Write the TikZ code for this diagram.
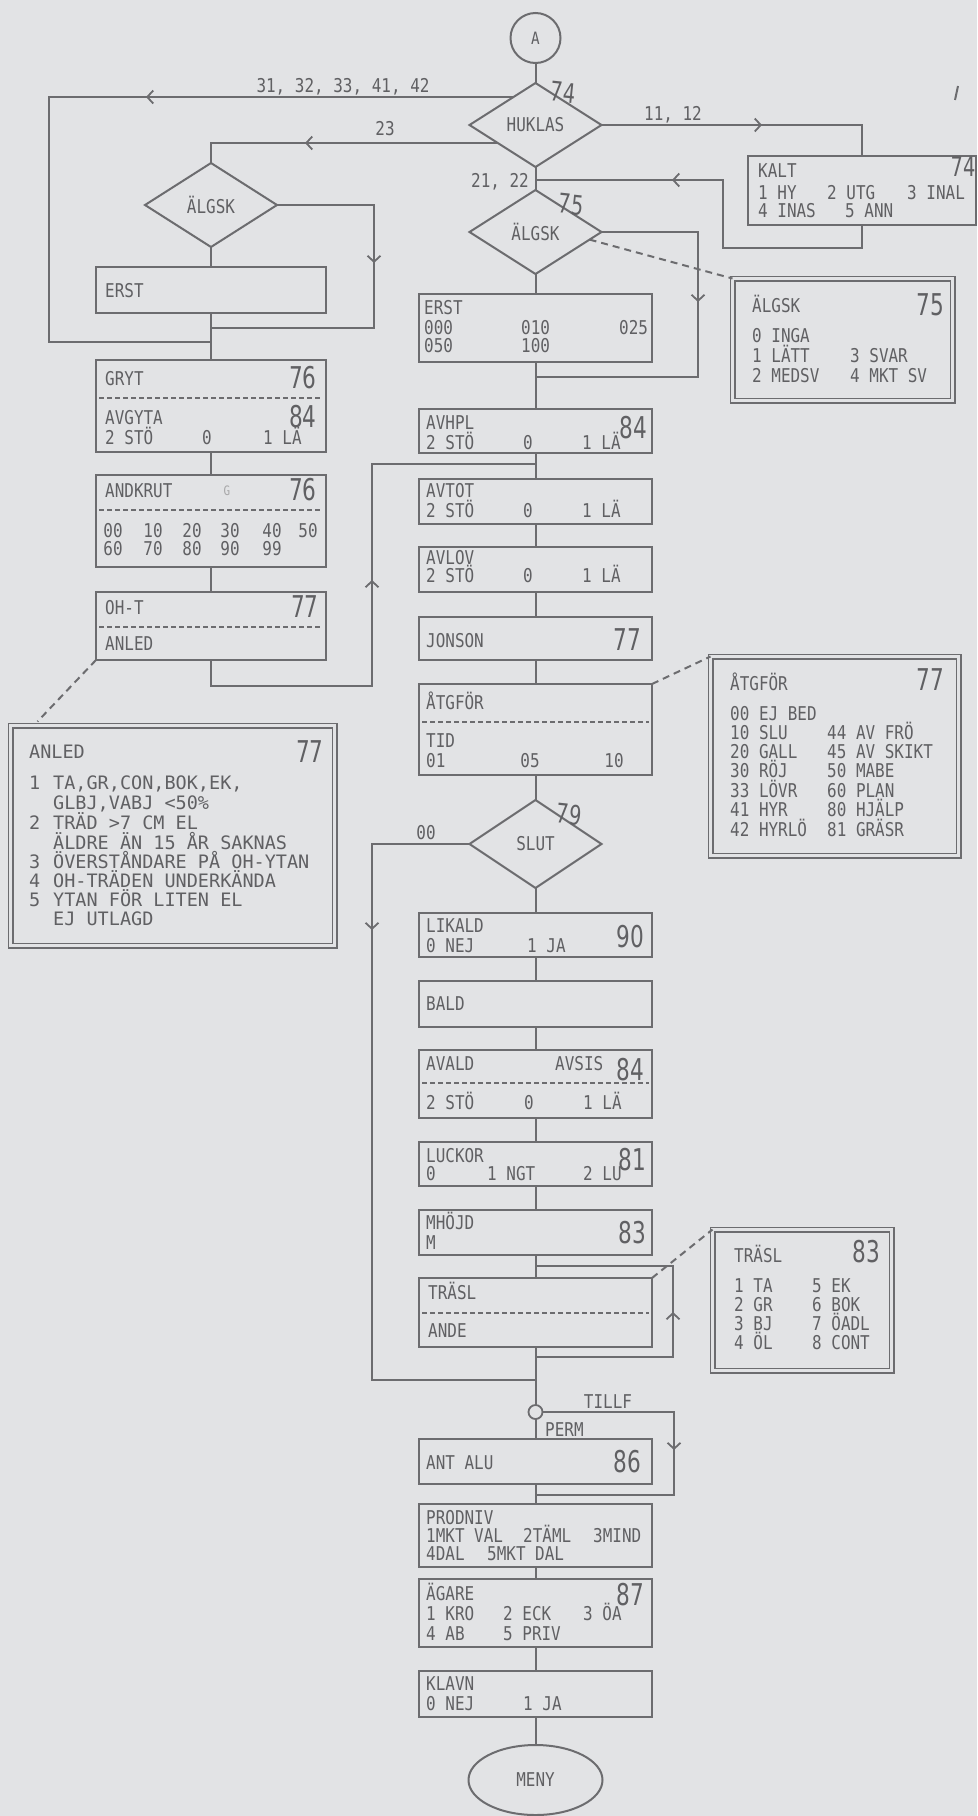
\documentclass[tikz,border=0pt]{standalone}
\usepackage{fontspec}
\setmainfont{DejaVu Sans}
\newfontfamily\plotf[FakeStretch=0.84]{DejaVu Sans Mono}
\newfontfamily\widef{DejaVu Sans Mono}
\newfontfamily\bigff[FakeStretch=0.72]{DejaVu Sans}
\usetikzlibrary{shapes.geometric,arrows.meta,calc}
\definecolor{bg}{RGB}{226,227,229}
\definecolor{ink}{RGB}{108,108,111}
\definecolor{tink}{RGB}{96,96,99}
\newcounter{tn}
\newcommand\Tl[3]{\stepcounter{tn}\node[txt] (t\arabic{tn}) at (#1,#2+7) {#3};}
\newcommand\Tc[3]{\stepcounter{tn}\node[txt,anchor=base] (t\arabic{tn}) at (#1,#2+7) {#3};}
\newcommand\Tw[3]{\stepcounter{tn}\node[txtw] (t\arabic{tn}) at (#1,#2+6.5) {#3};}
\newcommand\Bn[3]{\stepcounter{tn}\node[bignum] (t\arabic{tn}) at (#1,#2+10.5) {#3};}
\newcommand\Hl[3]{\stepcounter{tn}\node[hand] (t\arabic{tn}) at (#1,#2+9) {#3};}
\newcommand\Bx[5]{\node[box,anchor=north west,minimum width={(#4-#2)*1bp},minimum height={(#5-#3)*1bp}] (#1) at (#2,#3) {};}
\newcommand\Cb[5]{\node[cbox,anchor=north west,minimum width={(#4-#2-5)*1bp},minimum height={(#5-#3-5)*1bp}] (#1) at (#2+2.5,#3+2.5) {};}
\newcommand\Dv[2]{\draw[div] ($(#1.north west)+(3,#2)$) -- ($(#1.north east)+(-3,#2)$);}
\newcommand\Chv[4]{\stepcounter{tn}\coordinate (c\arabic{tn}) at (#1,#2); \draw[chv] (c\arabic{tn}) ++(#3,#4) -- (c\arabic{tn});}
\begin{document}
\begin{tikzpicture}[x=1bp,y=-1bp,
  ln/.style={draw=ink,line width=2bp},
  box/.style={draw=ink,line width=2bp,rectangle,inner sep=0,outer sep=0},
  cbox/.style={draw=ink,double=bg,double distance=3bp,line width=1.5bp,rectangle,inner sep=0,outer sep=0},
  dia/.style={draw=ink,line width=2bp,shape=diamond,minimum width=132bp,minimum height=84bp,inner sep=0,outer sep=0,text=tink,font=\plotf\fontsize{19bp}{19bp}\selectfont},
  div/.style={draw=ink,line width=1.3bp,dash pattern=on 5bp off 3bp},
  dsh/.style={draw=ink,line width=2bp,dash pattern=on 7bp off 5bp},
  chv/.style={draw=ink,line width=1.8bp,-{Straight Barb[length=6bp,width=13bp]}},
  txt/.style={anchor=base west,inner sep=0,text=tink,font=\plotf\fontsize{19bp}{19bp}\selectfont},
  txtw/.style={anchor=base west,inner sep=0,text=tink,font=\widef\fontsize{18.5bp}{18.5bp}\selectfont},
  bignum/.style={anchor=base,inner sep=0,text=tink,font=\bigff\fontsize{30bp}{30bp}\selectfont},
  hand/.style={anchor=base,inner sep=0,text=tink,rotate=-6,font=\bigff\fontsize{27bp}{27bp}\selectfont}]
\fill[bg] (0,0) rectangle (977,1816);
\useasboundingbox (0,0) rectangle (977,1816);

% ---- shapes
\node[circle,draw=ink,line width=2bp,minimum size=50bp,inner sep=0,outer sep=0,text=tink,font=\plotf\fontsize{17bp}{17bp}\selectfont] (A) at (535.5,38) {A};
\node[dia] (huk) at (535.5,125) {HUKLAS};
\node[dia] (lalg) at (211,205) {ÄLGSK};
\node[dia] (alg) at (535.5,232) {ÄLGSK};
\node[dia,minimum height=88bp] (slut) at (535.5,844) {SLUT};
\node[circle,draw=ink,line width=1.8bp,minimum size=14bp,inner sep=0,outer sep=0] (tc) at (535.5,1412) {};
\node[ellipse,draw=ink,line width=2bp,minimum width=134bp,minimum height=70bp,inner sep=0,outer sep=0,text=tink,font=\plotf\fontsize{19bp}{19bp}\selectfont] (meny) at (535.5,1780) {MENY};

\Bx{kalt}{748}{156}{976}{225}
\Bx{lerst}{96}{267}{326}{313}
\Bx{gryt}{96}{360}{326}{452}
\Bx{andk}{96}{475}{326}{567}
\Bx{oht}{96}{592}{326}{660}
\Bx{erst}{419}{294}{652}{362}
\Bx{avhpl}{419}{409}{652}{453}
\Bx{avtot}{419}{479}{652}{524}
\Bx{avlov}{419}{547}{652}{592}
\Bx{jon}{419}{617}{652}{660}
\Bx{atg}{419}{684}{652}{775}
\Bx{lik}{419}{913}{652}{957}
\Bx{bald}{419}{981}{652}{1027}
\Bx{avald}{419}{1050}{652}{1118}
\Bx{luck}{419}{1142}{652}{1186}
\Bx{mh}{419}{1210}{652}{1255}
\Bx{tra}{419}{1278}{652}{1347}
\Bx{ant}{419}{1439}{652}{1484}
\Bx{prod}{419}{1504}{652}{1567}
\Bx{aga}{419}{1579}{652}{1647}
\Bx{kla}{419}{1671}{652}{1717}
\Cb{calg}{730}{276}{955}{403}
\Cb{catg}{708}{654}{961}{858}
\Cb{ctra}{710}{1227}{894}{1373}
\Cb{canl}{8}{723}{337}{948}

\Dv{gryt}{38}
\Dv{andk}{35}
\Dv{oht}{35}
\Dv{atg}{38}
\Dv{avald}{33}
\Dv{tra}{35}

% ---- coordinates
\coordinate (L) at (49,0);
\coordinate (J1) at (211,342);
\coordinate (R2) at (374,0);
\coordinate (J4) at (211,328);
\coordinate (K1) at (723,248);
\coordinate (J2) at (535.5,180);
\coordinate (R1) at (698,0);
\coordinate (J3) at (535.5,377);
\coordinate (O1) at (372,686);
\coordinate (J5) at (535.5,464);
\coordinate (S1) at (372,0);
\coordinate (J6) at (535.5,1380);
\coordinate (J7) at (535.5,1357);
\coordinate (T1) at (673,1266);
\coordinate (J8) at (535.5,1266);
\coordinate (P1) at (674,1495);
\coordinate (J9) at (535.5,1495);

% ---- connectors
\draw[ln] (A.south) -- (huk.north);
\draw[ln] (huk.128) -- (huk.128 -| L) |- (J1);
\draw[ln] (huk.205) -| (lalg.north);
\draw[ln] (huk.east) -| (kalt.north);
\draw[ln] (kalt.south) |- (K1) |- (J2);
\draw[ln] (huk.south) -- (alg.north);
\draw[ln] (alg.east) -- (alg.east -| R1) |- (J3);
\draw[ln] (lalg.east) -- (lalg.east -| R2) |- (J4);
\draw[ln] (lalg.south) -- (lerst.north);
\draw[ln] (lerst.south) -- (gryt.north);
\draw[ln] (gryt.south) -- (andk.north);
\draw[ln] (andk.south) -- (oht.north);
\draw[ln] (oht.south) |- (O1) |- (J5);
\draw[ln] (alg.south) -- (erst.north);
\draw[ln] (erst.south) -- (avhpl.north);
\draw[ln] (avhpl.south) -- (avtot.north);
\draw[ln] (avtot.south) -- (avlov.north);
\draw[ln] (avlov.south) -- (jon.north);
\draw[ln] (jon.south) -- (atg.north);
\draw[ln] (atg.south) -- (slut.north);
\draw[ln] (slut.south) -- (lik.north);
\draw[ln] (lik.south) -- (bald.north);
\draw[ln] (bald.south) -- (avald.north);
\draw[ln] (avald.south) -- (luck.north);
\draw[ln] (luck.south) -- (mh.north);
\draw[ln] (mh.south) -- (tra.north);
\draw[ln] (tra.south) -- (tc.north);
\draw[ln] (tc.south) -- (ant.north);
\draw[ln] (ant.south) -- (prod.north);
\draw[ln] (prod.south) -- (aga.north);
\draw[ln] (aga.south) -- (kla.north);
\draw[ln] (kla.south) -- (meny.north);
\draw[ln] (slut.west) -- (slut.west -| S1) |- (J6);
\draw[ln] (J7) -| (T1) -- (J8);
\draw[ln] (tc.east) -| (P1) -- (J9);

\draw[dsh] (alg.-8) -- (calg.north west);
\draw[dsh] (atg.north east) -- (catg.north west);
\draw[dsh] (tra.north east) -- (ctra.north west);
\draw[dsh] (oht.south west) -- ($(canl.north west)+(27,-4)$);

\Chv{146}{97}{8}{0}
\Chv{305}{143}{8}{0}
\Chv{762}{125}{-8}{0}
\Chv{672}{180}{8}{0}
\Chv{374}{263}{0}{-8}
\Chv{698}{302}{0}{-8}
\Chv{372}{580}{0}{8}
\Chv{372}{930}{0}{-8}
\Chv{673}{1312}{0}{8}
\Chv{674}{1450}{0}{-8}

\coordinate (tk1) at (955,100);
\coordinate (tk2) at (958,86);
\draw[ln] (tk1) -- (tk2);

% ---- labels
\Tc{343}{85}{31, 32, 33, 41, 42}
\Tc{385}{128}{23}
\Tc{673}{113}{11, 12}
\Tc{500}{180}{21, 22}
\Hl{562}{93}{74}
\Hl{570}{205}{75}
\Hl{568}{815}{79}
\Tc{426}{832}{00}

% KALT
\Tl{758}{170}{KALT}
\Tl{758}{192}{1 HY}
\Tl{827}{192}{2 UTG}
\Tl{907}{192}{3 INAL}
\Tl{758}{210}{4 INAS}
\Tl{845}{210}{5 ANN}
\stepcounter{tn}\node[bignum,font=\bigff\fontsize{27bp}{27bp}\selectfont] (t\arabic{tn}) at (963,176) {74};

% left column
\Tl{105}{290}{ERST}
\Tl{105}{378}{GRYT} \Bn{303}{378}{76}
\Tl{105}{417}{AVGYTA} \Bn{303}{417}{84}
\Tl{105}{437}{2 STÖ} \Tc{207}{437}{0} \Tl{263}{437}{1 LÄ}
\Tl{105}{490}{ANDKRUT} \Bn{303}{490}{76}
\stepcounter{tn}\node[txt,anchor=base,text=tink!55,font=\plotf\fontsize{13bp}{13bp}\selectfont] (t\arabic{tn}) at (227,495) {G};
\Tc{113}{530}{00} \Tc{153}{530}{10} \Tc{192}{530}{20} \Tc{230}{530}{30} \Tc{272}{530}{40} \Tc{308}{530}{50}
\Tc{113}{548}{60} \Tc{153}{548}{70} \Tc{192}{548}{80} \Tc{230}{548}{90} \Tc{272}{548}{99}
\Tl{105}{607}{OH-T} \Bn{305}{607}{77}
\Tl{105}{643}{ANLED}

% ANLED callout
\Tw{29}{752}{ANLED} \Bn{310}{752}{77}
\Tw{29}{783}{1} \Tw{53}{783}{TA,GR,CON,BOK,EK,}
\Tw{53}{803}{GLBJ,VABJ <50\%}
\Tw{29}{823}{2} \Tw{53}{823}{TRÄD >7 CM EL}
\Tw{53}{843}{ÄLDRE ÄN 15 ÅR SAKNAS}
\Tw{29}{862}{3} \Tw{53}{862}{ÖVERSTÅNDARE PÅ OH-YTAN}
\Tw{29}{881}{4} \Tw{53}{881}{OH-TRÄDEN UNDERKÄNDA}
\Tw{29}{900}{5} \Tw{53}{900}{YTAN FÖR LITEN EL}
\Tw{53}{919}{EJ UTLAGD}

% ALGSK callout
\Tl{752}{305}{ÄLGSK} \Bn{930}{305}{75}
\Tl{752}{335}{0 INGA}
\Tl{752}{355}{1 LÄTT} \Tl{850}{355}{3 SVAR}
\Tl{752}{375}{2 MEDSV} \Tl{850}{375}{4 MKT SV}

% centre column
\Tl{424}{307}{ERST}
\Tl{424}{327}{000} \Tl{521}{327}{010} \Tl{619}{327}{025}
\Tl{424}{345}{050} \Tl{521}{345}{100}
\Tl{426}{422}{AVHPL} \Bn{633}{428}{84}
\Tl{426}{442}{2 STÖ} \Tc{528}{442}{0} \Tl{582}{442}{1 LÄ}
\Tl{426}{490}{AVTOT}
\Tl{426}{510}{2 STÖ} \Tc{528}{510}{0} \Tl{582}{510}{1 LÄ}
\Tl{426}{557}{AVLOV}
\Tl{426}{575}{2 STÖ} \Tc{528}{575}{0} \Tl{582}{575}{1 LÄ}
\Tl{426}{640}{JONSON} \Bn{627}{640}{77}
\Tl{426}{702}{ÅTGFÖR}
\Tl{426}{740}{TID}
\Tl{426}{760}{01} \Tc{530}{760}{05} \Tc{614}{760}{10}
\Tl{426}{925}{LIKALD} \Bn{630}{937}{90}
\Tl{426}{945}{0 NEJ} \Tl{527}{945}{1 JA}
\Tl{426}{1003}{BALD}
\Tl{426}{1063}{AVALD} \Tl{555}{1063}{AVSIS} \Bn{630}{1070}{84}
\Tl{426}{1102}{2 STÖ} \Tc{529}{1102}{0} \Tl{583}{1102}{1 LÄ}
\Tl{426}{1155}{LUCKOR} \Bn{632}{1160}{81}
\Tl{426}{1173}{0} \Tl{487}{1173}{1 NGT} \Tl{583}{1173}{2 LU}
\Tl{426}{1222}{MHÖJD} \Bn{632}{1233}{83}
\Tl{426}{1242}{M}
\Tl{428}{1292}{TRÄSL}
\Tl{428}{1330}{ANDE}
\Tc{608}{1401}{TILLF}
\Tl{545}{1429}{PERM}
\Tl{426}{1462}{ANT ALU} \Bn{627}{1462}{86}
\Tl{426}{1517}{PRODNIV}
\Tl{426}{1535}{1MKT VAL} \Tl{523}{1535}{2TÄML} \Tl{593}{1535}{3MIND}
\Tl{426}{1553}{4DAL} \Tl{487}{1553}{5MKT DAL}
\Tl{426}{1593}{ÄGARE} \Bn{630}{1595}{87}
\Tl{426}{1613}{1 KRO} \Tl{503}{1613}{2 ECK} \Tl{583}{1613}{3 ÖA}
\Tl{426}{1633}{4 AB} \Tl{503}{1633}{5 PRIV}
\Tl{426}{1683}{KLAVN}
\Tl{426}{1703}{0 NEJ} \Tl{523}{1703}{1 JA}

% ATGFOR callout
\Tl{730}{683}{ÅTGFÖR} \Bn{930}{680}{77}
\Tl{730}{713}{00 EJ BED}
\Tl{730}{732}{10 SLU} \Tl{827}{732}{44 AV FRÖ}
\Tl{730}{751}{20 GALL} \Tl{827}{751}{45 AV SKIKT}
\Tl{730}{770}{30 RÖJ} \Tl{827}{770}{50 MABE}
\Tl{730}{790}{33 LÖVR} \Tl{827}{790}{60 PLAN}
\Tl{730}{809}{41 HYR} \Tl{827}{809}{80 HJÄLP}
\Tl{730}{829}{42 HYRLÖ} \Tl{827}{829}{81 GRÄSR}

% TRASL callout
\Tl{734}{1255}{TRÄSL} \Bn{866}{1252}{83}
\Tl{734}{1285}{1 TA} \Tl{812}{1285}{5 EK}
\Tl{734}{1304}{2 GR} \Tl{812}{1304}{6 BOK}
\Tl{734}{1323}{3 BJ} \Tl{812}{1323}{7 ÖADL}
\Tl{734}{1342}{4 ÖL} \Tl{812}{1342}{8 CONT}
\end{tikzpicture}
\end{document}
